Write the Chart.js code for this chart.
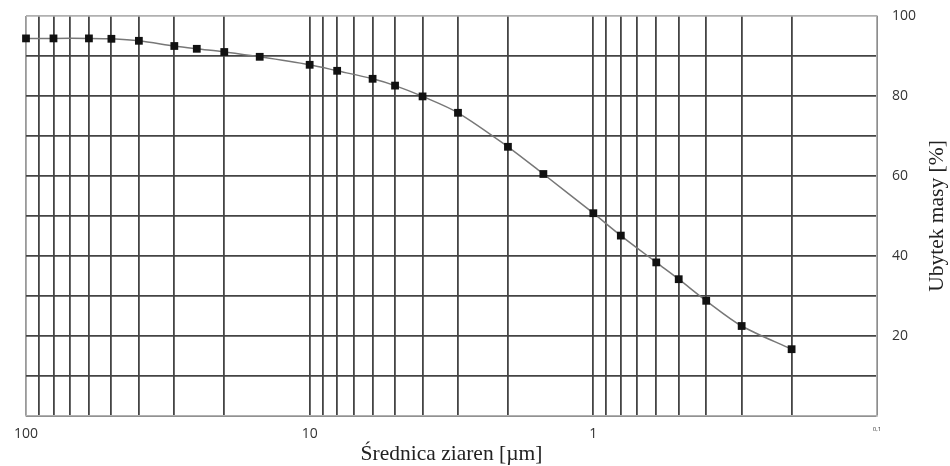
<!DOCTYPE html>
<html>
<head>
<meta charset="utf-8">
<script src="https://cdn.jsdelivr.net/npm/chart.js@4/dist/chart.umd.min.js"></script>
<style>
  html, body { margin: 0; padding: 0; background: #fff; }
  #wrap { width: 950px; height: 466px; position: relative; }
</style>
</head>
<body>
<div id="wrap"><canvas id="grainChart"></canvas></div>
<script>
// Grain diameter [um] and mass loss [%]
const diameters = [100, 80, 60, 50, 40, 30, 25, 20, 15, 10, 8, 6, 5, 4, 3, 2, 1.5, 1, 0.8, 0.6, 0.5, 0.4, 0.3, 0.2];
const massLoss = [94.4, 94.4, 94.4, 94.3, 93.8, 92.5, 91.8, 91.0, 89.8, 87.8, 86.3, 84.3, 82.6, 79.9, 75.8, 67.3, 60.5, 50.7, 45.1, 38.4, 34.2, 28.8, 22.5, 16.7];
const xLabelTicks = [100, 10, 1, 0.1];
const xLabelText = ['100', '10', '1', '0,1'];
const yLabelTicks = [20, 40, 60, 80, 100];
const yTitle = 'Ubytek masy [%]';

document.addEventListener('DOMContentLoaded', function () {
    const gridColor = '#444';
    const edgeColor = '#b0b0b0';

    // vertical grid at 1..9 x 10^n
    const gridValues = [];
    [0.1, 1, 10].forEach(function (dec) {
        for (let m = 1; m <= 9; m++) gridValues.push(+(m * dec).toPrecision(3));
    });
    gridValues.push(100);

    // y title reads bottom-to-top on the right side
    const yTitlePlugin = {
        id: 'yTitle',
        afterDraw: function (chart) {
            const c = chart.ctx;
            const area = chart.chartArea;
            c.save();
            c.translate(937, (area.top + area.bottom) / 2);
            c.rotate(-Math.PI / 2);
            c.fillStyle = '#222';
            c.font = "21.5px 'Liberation Serif', serif";
            c.textAlign = 'center';
            c.textBaseline = 'middle';
            c.fillText(yTitle, 0, 0);
            c.restore();
        }
    };

    const ctx = document.getElementById('grainChart').getContext('2d');
    new Chart(ctx, {
        type: 'line',
        data: {
            datasets: [{
                data: diameters.map((d, i) => ({ x: d, y: massLoss[i] })),
                borderColor: '#777',
                borderWidth: 1.5,
                tension: 0.3,
                clip: false,
                pointStyle: 'rect',
                pointRadius: 5.5,
                pointBackgroundColor: '#111',
                pointBorderColor: '#111',
                pointBorderWidth: 0
            }]
        },
        plugins: [yTitlePlugin],
        options: {
            responsive: true,
            maintainAspectRatio: false,
            animation: false,
            layout: { padding: { left: 26, top: 16, right: 0, bottom: 0 } },
            plugins: { legend: { display: false }, tooltip: { enabled: false } },
            scales: {
                x: {
                    type: 'logarithmic',
                    reverse: true,
                    min: 0.1,
                    max: 100,
                    afterBuildTicks: function (scale) {
                        scale.ticks = gridValues.map(v => ({ value: v }));
                    },
                    afterFit: function (scale) {
                        scale.height = 50;
                        scale.paddingLeft = 0;
                        scale.paddingRight = 0;
                    },
                    grid: {
                        drawTicks: false,
                        lineWidth: 1.8,
                        color: function (c) {
                            if (c.tick && c.tick.value === 100) return '#999';
                            return gridColor;
                        }
                    },
                    border: { color: edgeColor, width: 1.5 },
                    ticks: {
                        autoSkip: false,
                        maxRotation: 0,
                        padding: 10,
                        color: '#333',
                        font: function (c) {
                            const v = c.tick ? c.tick.value : 1;
                            return { family: "'Open Sans', sans-serif", size: v === 0.1 ? 6 : 14 };
                        },
                        callback: function (value) {
                            const idx = xLabelTicks.indexOf(+value);
                            return idx >= 0 ? xLabelText[idx] : '';
                        }
                    },
                    title: {
                        display: true,
                        text: 'Średnica ziaren [µm]',
                        color: '#222',
                        font: { family: "'Liberation Serif', serif", size: 21.5, lineHeight: 1.1 },
                        padding: { top: 0, bottom: 0 }
                    }
                },
                y: {
                    position: 'right',
                    min: 0,
                    max: 100,
                    afterFit: function (scale) {
                        scale.width = 73;
                        scale.paddingTop = 0;
                        scale.paddingBottom = 0;
                    },
                    grid: {
                        drawTicks: false,
                        lineWidth: 1.8,
                        color: function (c) {
                            if (c.tick && c.tick.value === 100) return edgeColor;
                            return gridColor;
                        }
                    },
                    border: { color: edgeColor, width: 1.5 },
                    ticks: {
                        stepSize: 10,
                        padding: 15,
                        color: '#333',
                        font: { family: "'Open Sans', sans-serif", size: 14 },
                        callback: function (value) {
                            return yLabelTicks.includes(value) ? String(value) : '';
                        }
                    }
                }
            }
        }
    });
});
</script>
</body>
</html>
